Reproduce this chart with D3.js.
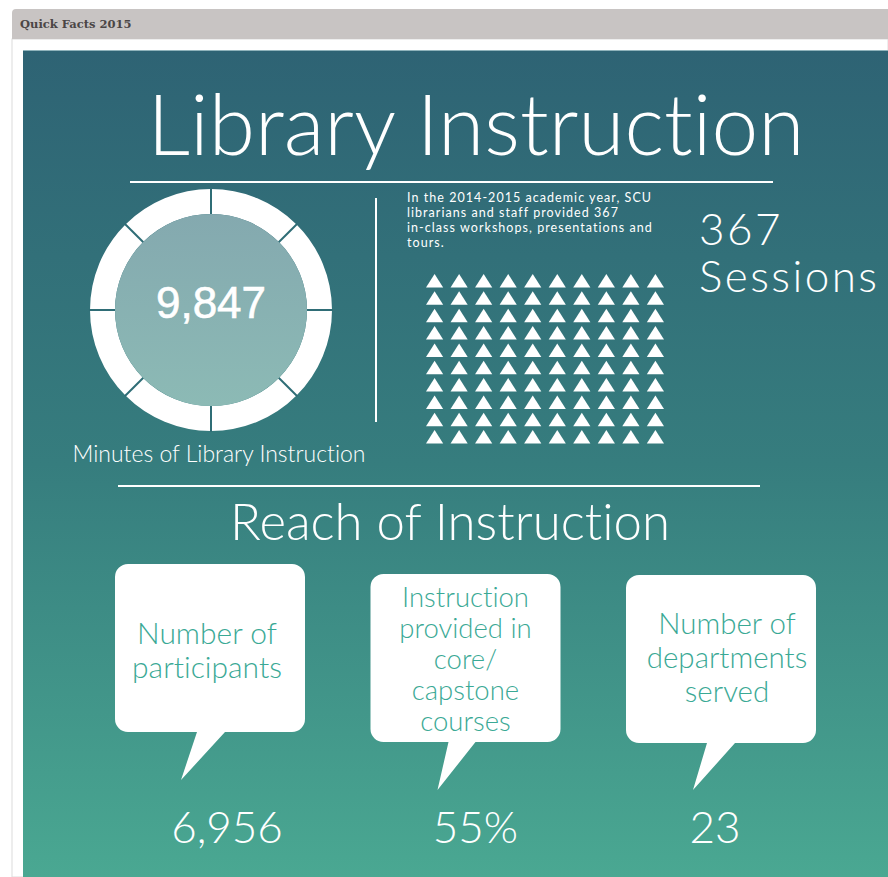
<!DOCTYPE html>
<html>
<head>
<meta charset="utf-8">
<script src="https://cdn.jsdelivr.net/npm/d3@7/dist/d3.min.js"></script>
<style>
  html, body { margin: 0; padding: 0; background: #fff; }
  svg { display: block; }
  text { font-variant-ligatures: none; font-feature-settings: "liga" 0; }
  .thin { font-family: Lato, "Open Sans", sans-serif; font-weight: 300; fill: #fff; }
</style>
</head>
<body>
<svg id="chart" width="888" height="877"></svg>
<script>
// --- data ---
const headerTitle = "Quick Facts 2015";
const mainTitle = "Library Instruction";
const sectionTitle = "Reach of Instruction";
const minutesValue = 9847;
const minutesLabel = "Minutes of Library Instruction";
const donutSegments = [1, 1, 1, 1, 1, 1, 1, 1];
const sessionCount = 367;
const sessionWords = [String(sessionCount), "Sessions"];
const blurbLines = [
  "In the 2014-2015 academic year, SCU",
  "librarians and staff provided 367",
  "in-class workshops, presentations and",
  "tours."
];
const iconCount = 100;
const iconCols = 10;
const bubbleLabels = [
  ["Number of", "participants"],
  ["Instruction", "provided in", "core/", "capstone", "courses"],
  ["Number of", "departments", "served"]
];
const bubbleValues = ["6,956", "55%", "23"];

// --- layout ---
const svg = d3.select("#chart");
const W = 888, H = 877;

const defs = svg.append("defs");
const bg = defs.append("linearGradient").attr("id", "bg")
  .attr("x1", 0).attr("y1", 0).attr("x2", 0).attr("y2", 1);
bg.append("stop").attr("offset", "0%").attr("stop-color", "#2e6374");
bg.append("stop").attr("offset", "50%").attr("stop-color", "#367d7e");
bg.append("stop").attr("offset", "100%").attr("stop-color", "#4aa892");

const disk = defs.append("linearGradient").attr("id", "disk")
  .attr("x1", 0).attr("y1", 0).attr("x2", 0).attr("y2", 1);
disk.append("stop").attr("offset", "0%").attr("stop-color", "#84a9af");
disk.append("stop").attr("offset", "100%").attr("stop-color", "#8cbab5");

// page frame
svg.append("rect").attr("x", 12).attr("y", 39).attr("width", W - 12).attr("height", H - 39)
  .attr("fill", "#fff").attr("stroke", "#dcdcdc");
svg.append("path")
  .attr("d", "M12,39 V13 Q12,9 16,9 H888 V39 Z")
  .attr("fill", "#c8c4c3");
svg.append("text").attr("x", 20).attr("y", 28)
  .attr("font-family", "Georgia, 'DejaVu Serif', serif").attr("font-weight", "bold")
  .attr("font-size", 11.5).attr("fill", "#4b4646")
  .text(headerTitle);

// infographic panel
svg.append("rect").attr("x", 23).attr("y", 50).attr("width", W - 23).attr("height", H - 50)
  .attr("fill", "url(#bg)");
svg.append("line").attr("x1", 23).attr("x2", W).attr("y1", 50.5).attr("y2", 50.5)
  .attr("stroke", "#8fb3bb").attr("stroke-width", 1);

function fitWidth(sel, width) {
  const w = sel.node().getComputedTextLength();
  const fs = parseFloat(sel.attr("font-size"));
  sel.attr("font-size", fs * width / w);
}

// title
const title = svg.append("text").attr("class", "thin")
  .attr("x", 476).attr("y", 155).attr("text-anchor", "middle")
  .attr("font-size", 84).text(mainTitle);
fitWidth(title, 657);

svg.append("line").attr("x1", 130).attr("x2", 773).attr("y1", 182).attr("y2", 182)
  .attr("stroke", "#fff").attr("stroke-width", 2);

// donut
const cx = 211, cy = 310;
const pie = d3.pie().sort(null);
const arc = d3.arc().innerRadius(96).outerRadius(121);
const g = svg.append("g").attr("transform", `translate(${cx},${cy})`);
g.selectAll("path.seg").data(pie(donutSegments)).join("path")
  .attr("class", "seg").attr("d", arc).attr("fill", "#fff");
g.selectAll("line.gap").data(pie(donutSegments)).join("line")
  .attr("class", "gap")
  .attr("x1", d => 95 * Math.sin(d.startAngle)).attr("y1", d => -95 * Math.cos(d.startAngle))
  .attr("x2", d => 122 * Math.sin(d.startAngle)).attr("y2", d => -122 * Math.cos(d.startAngle))
  .attr("stroke", "#2f6d76").attr("stroke-width", 2);
g.append("circle").attr("r", 96).attr("fill", "url(#disk)");
g.append("text").attr("y", 8).attr("text-anchor", "middle")
  .attr("font-family", "'Liberation Sans', Arial, sans-serif").attr("font-size", 44)
  .attr("fill", "#fff").attr("stroke", "#fff").attr("stroke-width", 0.6)
  .text(d3.format(",")(minutesValue));

const ml = svg.append("text").attr("class", "thin")
  .attr("x", 219).attr("y", 462).attr("text-anchor", "middle")
  .attr("font-size", 22).text(minutesLabel);
fitWidth(ml, 293);

svg.append("line").attr("x1", 376).attr("x2", 376).attr("y1", 198).attr("y2", 422)
  .attr("stroke", "#fff").attr("stroke-width", 2);

// blurb - tight leading like the original, widened with letter spacing
const blurb = svg.append("g").selectAll("text").data(blurbLines).join("text")
  .attr("x", 407).attr("y", (d, i) => 202 + i * 15)
  .attr("font-family", "Lato, sans-serif").attr("font-weight", 400)
  .attr("font-size", 12.5).attr("fill", "#fff")
  .text(d => d);
const blurbW = blurb.nodes()[0].getComputedTextLength();
blurb.attr("letter-spacing", (244 - blurbW) / (blurbLines[0].length - 1));

// icon grid
const iconRows = Math.ceil(iconCount / iconCols);
const xs = d3.scaleBand().domain(d3.range(iconCols)).range([426, 664]).paddingInner(0.3);
const ys = d3.scaleBand().domain(d3.range(iconRows)).range([274, 274 + 17 * iconRows]).paddingInner(0.2);
svg.append("g").selectAll("path").data(d3.range(iconCount)).join("path")
  .attr("d", d => {
    const x0 = xs(d % iconCols), y0 = ys(Math.floor(d / iconCols));
    const w = xs.bandwidth(), h = 13.5;
    return `M${x0 + w / 2},${y0}L${x0 + w},${y0 + h}L${x0},${y0 + h}Z`;
  })
  .attr("fill", "#fff");

// sessions
const sess = svg.append("g").selectAll("text").data(sessionWords).join("text")
  .attr("class", "thin")
  .attr("x", 699).attr("y", (d, i) => 245 + i * 47)
  .attr("font-size", 44)
  .text(d => d);
const sessW = sess.nodes()[1].getComputedTextLength();
sess.attr("letter-spacing", (178 - sessW) / 7);

svg.append("line").attr("x1", 118).attr("x2", 760).attr("y1", 486).attr("y2", 486)
  .attr("stroke", "#fff").attr("stroke-width", 2);

const st = svg.append("text").attr("class", "thin")
  .attr("x", 450).attr("y", 540).attr("text-anchor", "middle")
  .attr("font-size", 50).text(sectionTitle);
fitWidth(st, 440);

// bubbles
const bx = d3.scalePoint().domain(d3.range(bubbleLabels.length)).range([210, 721]);
const bubbleTop = [564, 574, 575];
const bubbleW = 190, bubbleH = 168;
const tailOff = [[-13, 15, -29, 48], [-17, 10, -28, 48], [-14, 14, -28, 47]];
const valueOff = [17, 10, -6];
const labelOff = [-3, 0, 6];
const firstBase = [644, 607, 634];
const lineGap = [34, 31, 34];
const labelSize = [30, 27.5, 29.5];

function bubblePath(i) {
  const r = 13;
  const x0 = bx(i) - bubbleW / 2, x1 = bx(i) + bubbleW / 2;
  const y0 = bubbleTop[i], y1 = y0 + bubbleH;
  const [t0, t1, tx, ty] = tailOff[i];
  const p = d3.path();
  p.moveTo(x0 + r, y0);
  p.lineTo(x1 - r, y0); p.arcTo(x1, y0, x1, y0 + r, r);
  p.lineTo(x1, y1 - r); p.arcTo(x1, y1, x1 - r, y1, r);
  p.lineTo(bx(i) + t1, y1);
  p.lineTo(bx(i) + tx, y1 + ty);
  p.lineTo(bx(i) + t0, y1);
  p.lineTo(x0 + r, y1); p.arcTo(x0, y1, x0, y1 - r, r);
  p.lineTo(x0, y0 + r); p.arcTo(x0, y0, x0 + r, y0, r);
  p.closePath();
  return p.toString();
}

const bubbles = svg.append("g").selectAll("g").data(bubbleLabels).join("g");
bubbles.append("path").attr("d", (d, i) => bubblePath(i)).attr("fill", "#fff");
bubbles.each(function (lines, i) {
  d3.select(this).append("text")
    .attr("text-anchor", "middle")
    .attr("font-family", "Lato, sans-serif").attr("font-weight", 300)
    .attr("font-size", labelSize[i]).attr("fill", "#3aa995")
    .selectAll("tspan").data(lines).join("tspan")
    .attr("x", bx(i) + labelOff[i])
    .attr("y", (d, j) => firstBase[i] + j * lineGap[i])
    .text(d => d);
});
bubbles.append("text").attr("class", "thin")
  .attr("x", (d, i) => bx(i) + valueOff[i]).attr("y", 843)
  .attr("text-anchor", "middle").attr("font-size", 44)
  .text((d, i) => bubbleValues[i]);
</script>
</body>
</html>
